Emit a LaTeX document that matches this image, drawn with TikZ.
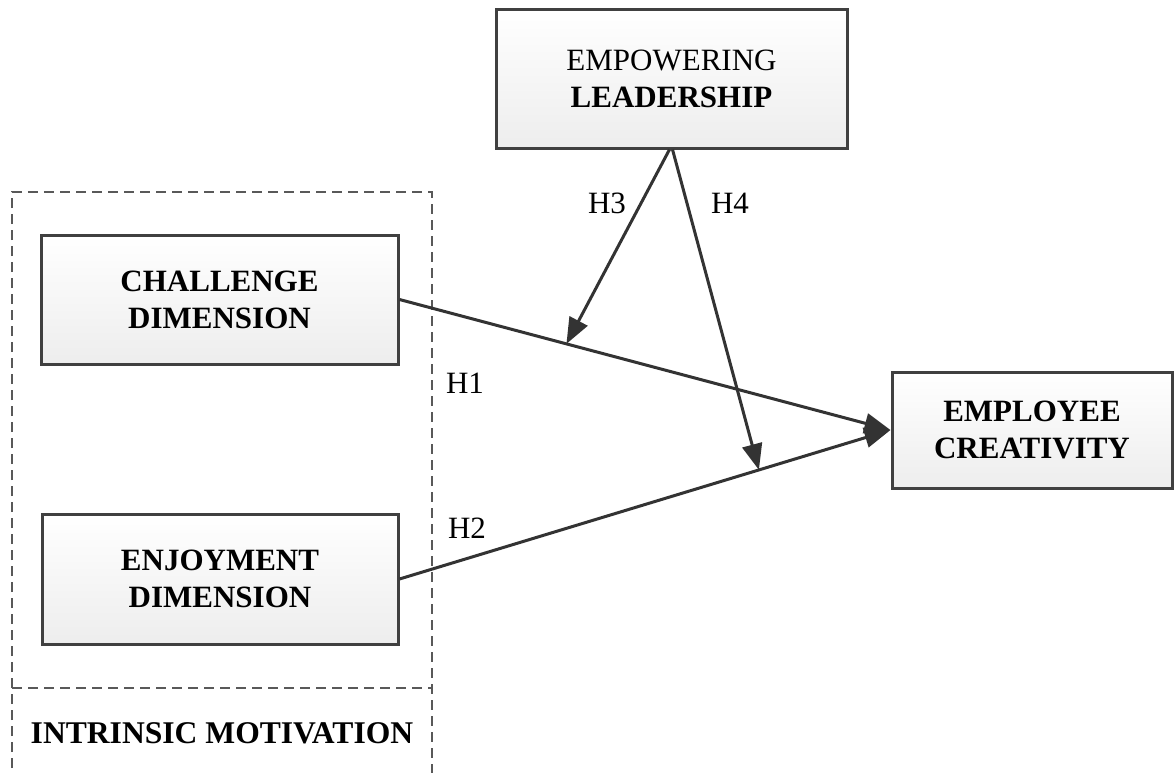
\documentclass[tikz,border=0pt]{standalone}
\usepackage{fontspec}
\setmainfont{Liberation Serif}
\usetikzlibrary{arrows.meta,calc}
\definecolor{edge}{HTML}{404040}
\definecolor{line}{HTML}{333333}
\begin{document}
\begin{tikzpicture}[x=0.5pt,y=-0.5pt,
  boxnode/.style={draw=edge, line width=1.5pt, top color=white, bottom color=black!7,
    align=center, inner sep=0pt, font=\fontsize{15.5}{18.5}\selectfont},
  conn/.style={draw=line, line width=1.5pt, -{Triangle[length=13pt,width=10pt]}},
  frame/.style={draw=black!65, line width=1pt, dash pattern=on 5pt off 3pt},
  lab/.style={font=\fontsize{15.5}{18.5}\selectfont, inner sep=0pt}]
\useasboundingbox (0,0) rectangle (1174,772);
\clip (0,0) rectangle (1174,772);
% dashed frame
\draw[frame] (12,800) -- (12,192) -- (432,192) -- (432,800);
\draw[frame] (12,688) -- (432,688);
\node[lab, font=\fontsize{15.8}{18.5}\selectfont\bfseries] (im) at (222,733) {INTRINSIC MOTIVATION};
% boxes
\node[boxnode, minimum width=351*0.5pt, minimum height=139*0.5pt] (lead) at (671.5,78.5) {EMPOWERING\\\textbf{LEADERSHIP}};
\node[boxnode, minimum width=357*0.5pt, minimum height=129*0.5pt, font=\fontsize{15.5}{18.5}\selectfont\bfseries] (chal) at (219.5,299.5) {CHALLENGE\\DIMENSION};
\node[boxnode, minimum width=356*0.5pt, minimum height=130*0.5pt, font=\fontsize{15.5}{18.5}\selectfont\bfseries] (enj) at (220,579) {ENJOYMENT\\DIMENSION};
\node[boxnode, minimum width=280*0.5pt, minimum height=116*0.5pt, font=\fontsize{15.5}{18.5}\selectfont\bfseries] (emp) at (1032,430) {EMPLOYEE\\CREATIVITY};
% connectors
\draw[conn] (chal.east) -- (emp.west);
\draw[conn] (enj.east) -- (emp.west);
\coordinate (p1) at ($(chal.east)!0.34!(emp.west)$);
\coordinate (p2) at ($(enj.east)!0.732!(emp.west)$);
\coordinate (s3) at ($(lead.south)+(-2,0)$);
\coordinate (s4) at ($(lead.south)+(1,0)$);
\draw[conn] (s3) -- (p1);
\draw[conn] (s4) -- (p2);
% labels
\node[lab] (h1) at (465,383) {H1};
\node[lab] (h2) at (467,528) {H2};
\node[lab] (h3) at (607,203) {H3};
\node[lab] (h4) at (730,203) {H4};
\end{tikzpicture}
\end{document}
